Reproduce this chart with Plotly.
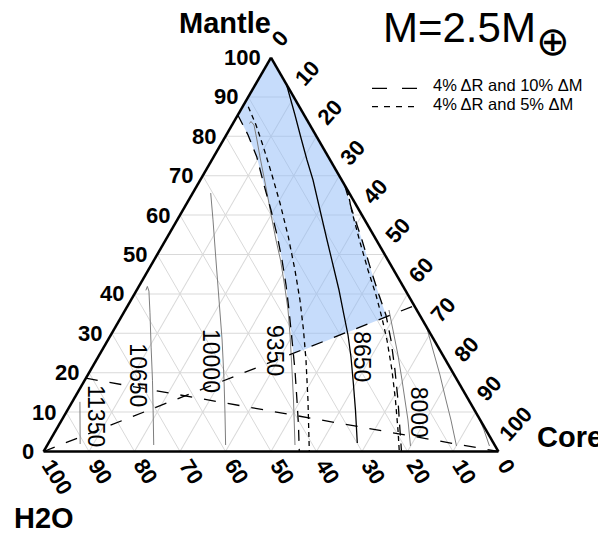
import math
import plotly.graph_objects as go

# ---------------- data (percent) : mantle, core ; H2O = 100 - mantle - core
CONTOUR_LABELS = ["11350", "10650", "10000", "9350", "8650", "8000"]
LABEL_MANTLE = [9.09, 19.24, 23.02, 25.76, 24.06, 10.1]
LABEL_CORE = [7.15, 11.22, 25.26, 38.0, 58.08, 77.48]

C11350_MANTLE = [12.6, 1.9]
C11350_CORE = [1.7, 7.1]

C10650_MANTLE = [40.9, 41.9, 40.7, 35.2, 26.5, 18.1, 9.8, 1.65]
C10650_CORE = [2.05, 1.87, 2.82, 5.8, 10.4, 14.9, 19.2, 23.4]

C10000_MANTLE = [65.6, 58.8, 48.6, 38.45, 28.3, 18.15, 9.77, 1.65]
C10000_CORE = [3.95, 7.85, 13.6, 19.35, 25.1, 30.6, 35.0, 39.2]

C9350_MANTLE = [83.25, 83.76, 82.87, 79.06, 74.75, 66.37, 59.52, 53.68, 48.6,
                42.26, 35.91, 29.57, 20.69, 13.07, 1.65]
C9350_CORE = [3.65, 3.72, 4.83, 7.39, 10.21, 15.82, 20.35, 24.26, 27.79,
              31.84, 35.79, 39.4, 44.27, 48.41, 54.45]

C8650_MANTLE = [93.27, 89.97, 85.41, 79.57, 73.98, 68.91, 61.29, 53.68, 47.34,
                40.99, 34.64, 29.57, 23.98, 17.39, 10.53, 2.16]
C8650_CORE = [6.77, 9.19, 12.57, 16.81, 20.92, 24.78, 30.12, 35.47, 39.96,
              44.45, 48.72, 52.14, 55.59, 59.4, 63.3, 67.89]

C8000_MANTLE = [35.91, 30.84, 24.49, 18.15, 13.07, 7.99, 1.4]
C8000_CORE = [57.97, 61.39, 65.66, 69.72, 72.91, 76.11, 79.96]

C7350_MANTLE = [31.6, 25.76, 19.42, 13.07, 7.99, 1.4]
C7350_CORE = [68.4, 72.72, 77.43, 81.92, 85.56, 90.07]

C6700_MANTLE = [9.0, 5.46, 1.4]
C6700_CORE = [91.0, 94.08, 97.32]

# 10% dM boundaries (long dash)
LEFT10_MANTLE = [85.4, 80.33, 74.82, 67.64, 61.29, 54.95, 48.6, 42.26, 35.91,
                 28.3, 20.69, 13.07, 6.73, 0.0]
LEFT10_CORE = [0.0, 4.79, 9.45, 14.64, 19.35, 23.85, 28.12, 32.17, 36.0,
               40.47, 44.92, 49.17, 52.67, 56.22]
RIGHT10_MANTLE = [67.64, 61.29, 53.68, 46.07, 39.72, 34.64, 28.3, 20.69, 13.07,
                  5.46, 0.0]
RIGHT10_CORE = [32.36, 37.15, 43.16, 48.94, 53.88, 57.95, 62.22, 66.9, 71.37,
                75.62, 78.68]
# 5% dM boundaries (short dash)
LEFT5_MANTLE = [87.51, 82.87, 77.36, 70.18, 63.07, 54.52, 46.07, 38.45, 30.84,
                23.22, 13.07, 0.0]
LEFT5_CORE = [1.25, 5.27, 9.63, 15.13, 20.44, 26.54, 32.23, 37.14, 41.72,
              46.08, 51.59, 58.42]
RIGHT5_MANTLE = [66.37, 60.79, 53.17, 46.07, 39.72, 33.88, 28.3, 20.69, 13.07,
                 5.46, 0.0]
RIGHT5_CORE = [33.62, 37.41, 42.97, 48.28, 53.22, 57.46, 61.34, 66.24, 70.82,
               75.18, 78.2]

# straight dashed lines
RAY1_MANTLE = [0.0, 37.0]
RAY1_CORE = [0.0, 63.0]
RAY2_MANTLE = [18.6, 0.0]
RAY2_CORE = [0.0, 100.0]

# corners of the shaded region where the ray cuts the 10% boundaries
CUT_MANTLE = [34.2, 24.72]
CUT_CORE = [58.3, 42.56]

AXIS_TICKS = [0, 10, 20, 30, 40, 50, 60, 70, 80, 90, 100]

# ---------------- page geometry: the page body adds an 8 px margin
PAGE_W, PAGE_H, OFF = 606, 536, 8
W, H = PAGE_W - OFF, PAGE_H - OFF


def px(x):
    return (x - OFF) / W


def py(y):
    return 1 - (y - OFF) / H


X0, X1 = px(43.5), px(498.5)
Y0, Y1 = py(451.5), py(57.5)


def to_paper(m, c):
    return X0 + (X1 - X0) * (c + m / 2) / 100, Y0 + (Y1 - Y0) * m / 100


def h2o(ms, cs):
    return [max(0.0, 100 - m - c) for m, c in zip(ms, cs)]


fig = go.Figure()


def add_line(ms, cs, color, width, dash="solid"):
    fig.add_trace(go.Scatterternary(
        a=ms, b=h2o(ms, cs), c=cs, mode="lines",
        line=dict(color=color, width=width, dash=dash),
        hoverinfo="skip", showlegend=False))


# shaded region: apex -> right boundary -> ray -> left boundary -> apex
reg_m = [100.0] + RIGHT10_MANTLE[:6] + CUT_MANTLE + LEFT10_MANTLE[:10][::-1] + [100.0]
reg_c = [0.0] + RIGHT10_CORE[:6] + CUT_CORE + LEFT10_CORE[:10][::-1] + [0.0]
fig.add_trace(go.Scatterternary(
    a=reg_m, b=h2o(reg_m, reg_c), c=reg_c, mode="lines", fill="toself",
    fillcolor="rgba(141,185,247,0.5)", line=dict(width=0),
    hoverinfo="skip", showlegend=False))

GRAY = "rgb(125,125,125)"
for ms, cs in [(C11350_MANTLE, C11350_CORE), (C10650_MANTLE, C10650_CORE),
               (C10000_MANTLE, C10000_CORE), (C9350_MANTLE, C9350_CORE),
               (C8000_MANTLE, C8000_CORE), (C7350_MANTLE, C7350_CORE),
               (C6700_MANTLE, C6700_CORE)]:
    add_line(ms, cs, GRAY, 1)
add_line(C8650_MANTLE, C8650_CORE, "black", 1.3)

LONG = "11px,8px"
SHORT = "5px,4px"
add_line(LEFT10_MANTLE, LEFT10_CORE, "black", 1.3, LONG)
add_line(RIGHT10_MANTLE, RIGHT10_CORE, "black", 1.3, LONG)
add_line(LEFT5_MANTLE, LEFT5_CORE, "black", 1.3, SHORT)
add_line(RIGHT5_MANTLE, RIGHT5_CORE, "black", 1.3, SHORT)
add_line(RAY1_MANTLE, RAY1_CORE, "black", 1.3, "12px,12px")
add_line(RAY2_MANTLE, RAY2_CORE, "black", 1.3, "12px,12px")

axis_common = dict(
    showline=True, linecolor="black", linewidth=2.5,
    showgrid=True, gridcolor="#d9d9d9", gridwidth=1,
    tickmode="array", tickvals=AXIS_TICKS,
    ticks="", showticklabels=False, title=dict(text=""), min=0,
)

fig.update_layout(
    width=W, height=H, margin=dict(l=0, r=0, t=0, b=0),
    paper_bgcolor="white", plot_bgcolor="white",
    ternary=dict(
        sum=100, bgcolor="white",
        domain=dict(x=[X0, X1], y=[Y0, Y1]),
        aaxis=dict(**axis_common),
        baxis=dict(**axis_common),
        caxis=dict(**axis_common),
    ),
    showlegend=False,
)

annos = []

# ---- axis tick labels, placed at the tick positions of each ternary edge
TICK_FS = 22
tickfont = dict(family="Liberation Sans", size=TICK_FS, color="black", weight="bold")
B_ANGLE, C_ANGLE = 58, -48


def rotated_label(t, m, c, angle, start_dx, start_dy):
    ax, ay = to_paper(m, c)
    half = len(str(t)) * 0.556 * TICK_FS / 2
    dx = start_dx + half * math.cos(math.radians(angle))
    dy = start_dy + half * math.sin(math.radians(angle))
    return dict(x=ax, y=ay, xref="paper", yref="paper", text=str(t),
                showarrow=False, textangle=angle, font=tickfont,
                xanchor="center", yanchor="middle", xshift=dx, yshift=-dy)


for t in AXIS_TICKS:
    ax, ay = to_paper(t, 0)
    annos.append(dict(x=ax, y=ay, xref="paper", yref="paper", text=str(t),
                      showarrow=False, font=tickfont, xanchor="right",
                      yanchor="middle", xshift=-8))
    annos.append(rotated_label(t, 0, 100 - t, B_ANGLE, 4.5, 10))
    annos.append(rotated_label(t, 100 - t, t, C_ANGLE, 5, -14.5))

for txt, m, c in zip(CONTOUR_LABELS, LABEL_MANTLE, LABEL_CORE):
    ax, ay = to_paper(m, c)
    annos.append(dict(x=ax, y=ay, xref="paper", yref="paper", text=txt,
                      showarrow=False, textangle=90,
                      font=dict(family="Liberation Sans", size=23, color="black"),
                      xanchor="center", yanchor="middle"))

title_font = dict(family="Liberation Sans", size=29, color="black", weight="bold")
for txt, x, y in [("Mantle", 225, 23), ("Core", 570, 437), ("H2O", 44, 518)]:
    annos.append(dict(x=px(x), y=py(y), xref="paper", yref="paper", text=txt,
                      showarrow=False, font=title_font,
                      xanchor="center", yanchor="middle"))

annos.append(dict(x=px(381), y=py(27.5), xref="paper", yref="paper",
                  text="M=2.5M", showarrow=False, xanchor="left", yanchor="middle",
                  font=dict(family="Liberation Sans", size=42, color="black")))
annos.append(dict(x=px(553), y=py(41), xref="paper", yref="paper",
                  text="\u2295", showarrow=False, xanchor="center", yanchor="middle",
                  font=dict(family="DejaVu Sans", size=40, color="black")))

legend_font = dict(family="Liberation Sans", size=16.5, color="black")
annos.append(dict(x=px(431), y=py(85), xref="paper", yref="paper",
                  text="4% \u0394R and 10% \u0394M", showarrow=False,
                  xanchor="left", yanchor="middle", font=legend_font))
annos.append(dict(x=px(431), y=py(104.5), xref="paper", yref="paper",
                  text="4% \u0394R and 5% \u0394M", showarrow=False,
                  xanchor="left", yanchor="middle", font=legend_font))
fig.update_layout(annotations=annos)

fig.add_shape(type="line", xref="paper", yref="paper",
              x0=px(372), x1=px(417), y0=py(88.3), y1=py(88.3),
              line=dict(color="black", width=1.2, dash="15px,15px"))
fig.add_shape(type="line", xref="paper", yref="paper",
              x0=px(372), x1=px(417), y0=py(106.7), y1=py(106.7),
              line=dict(color="black", width=1.2, dash="6px,6px"))

fig.write_html("out.html")
